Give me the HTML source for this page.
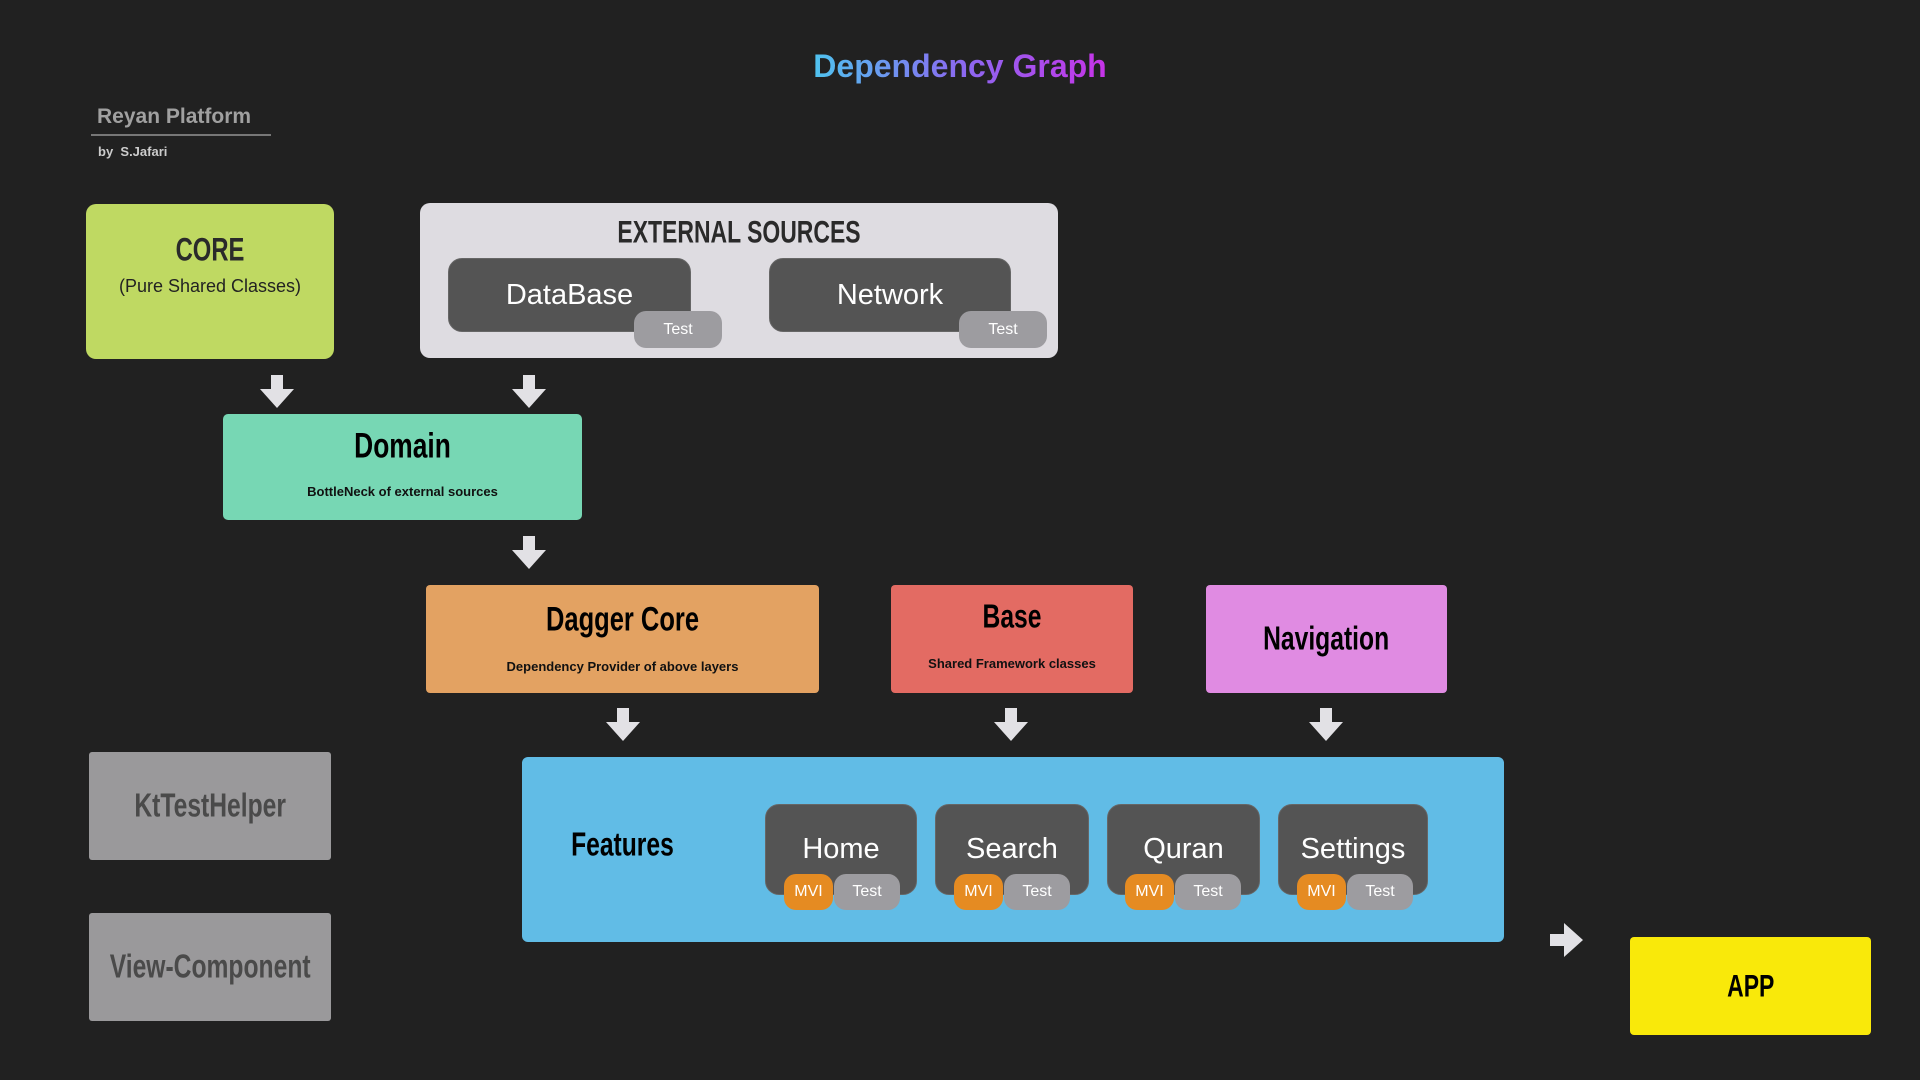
<!DOCTYPE html>
<html><head><meta charset="utf-8"><style>
body{margin:0;width:1920px;height:1080px;background:#212121;position:relative;overflow:hidden;font-family:"Liberation Sans",sans-serif}
.b{position:absolute;box-sizing:border-box}
.imp{font-family:"Liberation Sans Narrow","Liberation Sans",sans-serif;font-weight:bold;transform:scale(0.85,1.15)}
.c{display:flex;flex-direction:column;align-items:center;justify-content:center;text-align:center}
.dk{background:#545454;border-radius:14px;color:#fff;font-size:29px;border:1px solid #666}
.pill{position:absolute;border-radius:12px;color:#fff;font-size:16px;display:flex;align-items:center;justify-content:center;font-family:"Liberation Sans Narrow","Liberation Sans",sans-serif}
.t{background:#9d9ca0}.m{background:#e58b22}
svg{position:absolute}
</style></head><body>
<div class="b" style="left:0;width:1920px;top:48px;text-align:center;font-size:32px;font-weight:bold"><span style="background:linear-gradient(90deg,#4fc3ef,#8a6af0,#c733e8);-webkit-background-clip:text;background-clip:text;color:transparent">Dependency Graph</span></div>
<div class="b" style="left:97px;top:105px;font-size:21px;font-weight:bold;color:#a0a0a0">Reyan Platform</div>
<div class="b" style="left:91px;top:134px;width:180px;height:2px;background:#777"></div>
<div class="b" style="left:98px;top:144px;font-size:13px;font-weight:bold;color:#ccc">by&nbsp; S.Jafari</div>

<div class="b" style="left:86px;top:204px;width:248px;height:155px;background:#bfd962;border-radius:10px;text-align:center">
<div class="imp" style="margin-top:30px;font-size:28px;color:#2a2a2a">CORE</div>
<div style="margin-top:10px;font-size:18px;color:#222">(Pure Shared Classes)</div></div>

<div class="b" style="left:420px;top:203px;width:638px;height:155px;background:#dedce1;border-radius:10px">
<div class="imp" style="position:absolute;left:0;right:0;top:14px;text-align:center;font-size:27px;color:#2a2a2a">EXTERNAL SOURCES</div>
<div class="b dk c" style="left:28px;top:55px;width:243px;height:74px">DataBase</div>
<div class="pill t" style="left:214px;top:108px;width:88px;height:37px">Test</div>
<div class="b dk c" style="left:349px;top:55px;width:242px;height:74px">Network</div>
<div class="pill t" style="left:539px;top:108px;width:88px;height:37px">Test</div>
</div>

<div class="b" style="left:223px;top:414px;width:359px;height:106px;background:#77d7b4;border-radius:5px;text-align:center">
<div class="imp" style="margin-top:14px;font-size:31px;color:#000">Domain</div>
<div style="margin-top:20px;font-size:13px;font-weight:bold;color:#111">BottleNeck of external sources</div></div>

<div class="b" style="left:426px;top:585px;width:393px;height:108px;background:#e3a262;border-radius:4px;text-align:center">
<div class="imp" style="margin-top:18px;font-size:30px;color:#000">Dagger Core</div>
<div style="margin-top:22px;font-size:13px;font-weight:bold;color:#111">Dependency Provider of above layers</div></div>
<div class="b" style="left:891px;top:585px;width:242px;height:108px;background:#e36b63;border-radius:4px;text-align:center">
<div class="imp" style="margin-top:16px;font-size:29px;color:#000">Base</div>
<div style="margin-top:22px;font-size:13px;font-weight:bold;color:#111">Shared Framework classes</div></div>
<div class="b c" style="left:1206px;top:585px;width:241px;height:108px;background:#e08be2;border-radius:4px">
<div class="imp" style="font-size:29px;color:#000">Navigation</div></div>

<div class="b" style="left:522px;top:757px;width:982px;height:185px;background:#61bce6;border-radius:6px">
<div class="imp" style="position:absolute;left:40px;top:72px;font-size:29px;color:#000">Features</div>
<div class="b dk c" style="left:243px;top:47px;width:152px;height:91px">Home</div>
<div class="pill m" style="left:262px;top:117px;width:49px;height:36px">MVI</div>
<div class="pill t" style="left:312px;top:117px;width:66px;height:36px">Test</div>
<div class="b dk c" style="left:413px;top:47px;width:154px;height:91px">Search</div>
<div class="pill m" style="left:432px;top:117px;width:49px;height:36px">MVI</div>
<div class="pill t" style="left:482px;top:117px;width:66px;height:36px">Test</div>
<div class="b dk c" style="left:585px;top:47px;width:153px;height:91px">Quran</div>
<div class="pill m" style="left:603px;top:117px;width:49px;height:36px">MVI</div>
<div class="pill t" style="left:653px;top:117px;width:66px;height:36px">Test</div>
<div class="b dk c" style="left:756px;top:47px;width:150px;height:91px">Settings</div>
<div class="pill m" style="left:775px;top:117px;width:49px;height:36px">MVI</div>
<div class="pill t" style="left:825px;top:117px;width:66px;height:36px">Test</div>
</div>

<div class="b c" style="left:89px;top:752px;width:242px;height:108px;background:#9a999b;border-radius:3px"><div class="imp" style="font-size:29px;color:#4a4a4a">KtTestHelper</div></div>
<div class="b c" style="left:89px;top:913px;width:242px;height:108px;background:#9a999b;border-radius:3px"><div class="imp" style="font-size:29px;color:#4a4a4a">View-Component</div></div>
<div class="b c" style="left:1630px;top:937px;width:241px;height:98px;background:#f9e90a;border-radius:4px"><div class="imp" style="font-size:27px;color:#000">APP</div></div>

<svg width="1920" height="1080" style="left:0;top:0">
<defs><g id="ad"><polygon points="-6,0 6,0 6,14 17,14 0,33 -17,14 -6,14" fill="#e2e1e5"/></g></defs>
<use href="#ad" x="277" y="375"/><use href="#ad" x="529" y="375"/>
<use href="#ad" x="529" y="536"/>
<use href="#ad" x="623" y="708"/><use href="#ad" x="1011" y="708"/><use href="#ad" x="1326" y="708"/>
<polygon points="1550,934 1564,934 1564,923 1583,940 1564,957 1564,946 1550,946" fill="#e2e1e5"/>
</svg>
</body></html>
